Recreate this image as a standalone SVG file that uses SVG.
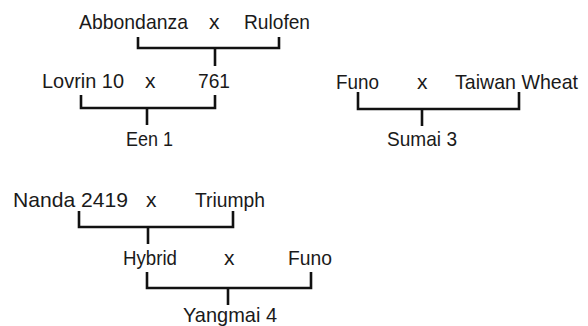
<svg xmlns="http://www.w3.org/2000/svg" width="588" height="326" viewBox="0 0 588 326">
<style>
text { font-family: "Liberation Sans", Arial, sans-serif; font-size: 21px; fill: #1a1a1a; }
.c { fill: none; stroke: #111; stroke-width: 2.6; stroke-linecap: butt; stroke-linejoin: miter; }
</style>
<rect width="588" height="326" fill="#ffffff"/>
<g id="connectors">
  <path class="c" d="M138,37 V48 H279 V37"/>
  <path class="c" d="M215,48 V66"/>
  <path class="c" d="M81,95 V108 H215 V95"/>
  <path class="c" d="M147,108 V125"/>
  <path class="c" d="M358,92 V109 H519 V92"/>
  <path class="c" d="M422,109 V126"/>
  <path class="c" d="M79,211 V227 H233 V211"/>
  <path class="c" d="M148,227 V244"/>
  <path class="c" d="M147,272 V288 H311 V272"/>
  <path class="c" d="M228,288 V305"/>
</g>
<g id="abbondanza"><text x="79" y="29" textLength="109" lengthAdjust="spacingAndGlyphs">Abbondanza</text></g>
<g id="cross1"><text x="209" y="29">x</text></g>
<g id="rulofen"><text x="244" y="29" textLength="66" lengthAdjust="spacingAndGlyphs">Rulofen</text></g>
<g id="lovrin10"><text x="42" y="88" textLength="82" lengthAdjust="spacingAndGlyphs">Lovrin 10</text></g>
<g id="cross2"><text x="145" y="88">x</text></g>
<g id="n761"><text x="198" y="88" textLength="32" lengthAdjust="spacingAndGlyphs">761</text></g>
<g id="een1"><text x="126" y="146" textLength="47" lengthAdjust="spacingAndGlyphs">Een 1</text></g>
<g id="funo1"><text x="336" y="89" textLength="43" lengthAdjust="spacingAndGlyphs">Funo</text></g>
<g id="cross3"><text x="417" y="89">x</text></g>
<g id="taiwanwheat"><text x="455" y="89" textLength="123" lengthAdjust="spacingAndGlyphs">Taiwan Wheat</text></g>
<g id="sumai3"><text x="387" y="146" textLength="70" lengthAdjust="spacingAndGlyphs">Sumai 3</text></g>
<g id="nanda2419"><text x="13" y="207" textLength="115" lengthAdjust="spacingAndGlyphs">Nanda 2419</text></g>
<g id="cross4"><text x="146" y="207">x</text></g>
<g id="triumph"><text x="195" y="207" textLength="70" lengthAdjust="spacingAndGlyphs">Triumph</text></g>
<g id="hybrid"><text x="123" y="265" textLength="54" lengthAdjust="spacingAndGlyphs">Hybrid</text></g>
<g id="cross5"><text x="224" y="265">x</text></g>
<g id="funo2"><text x="288" y="265" textLength="44" lengthAdjust="spacingAndGlyphs">Funo</text></g>
<g id="yangmai4"><text x="183" y="322" textLength="94" lengthAdjust="spacingAndGlyphs">Yangmai 4</text></g>
</svg>
